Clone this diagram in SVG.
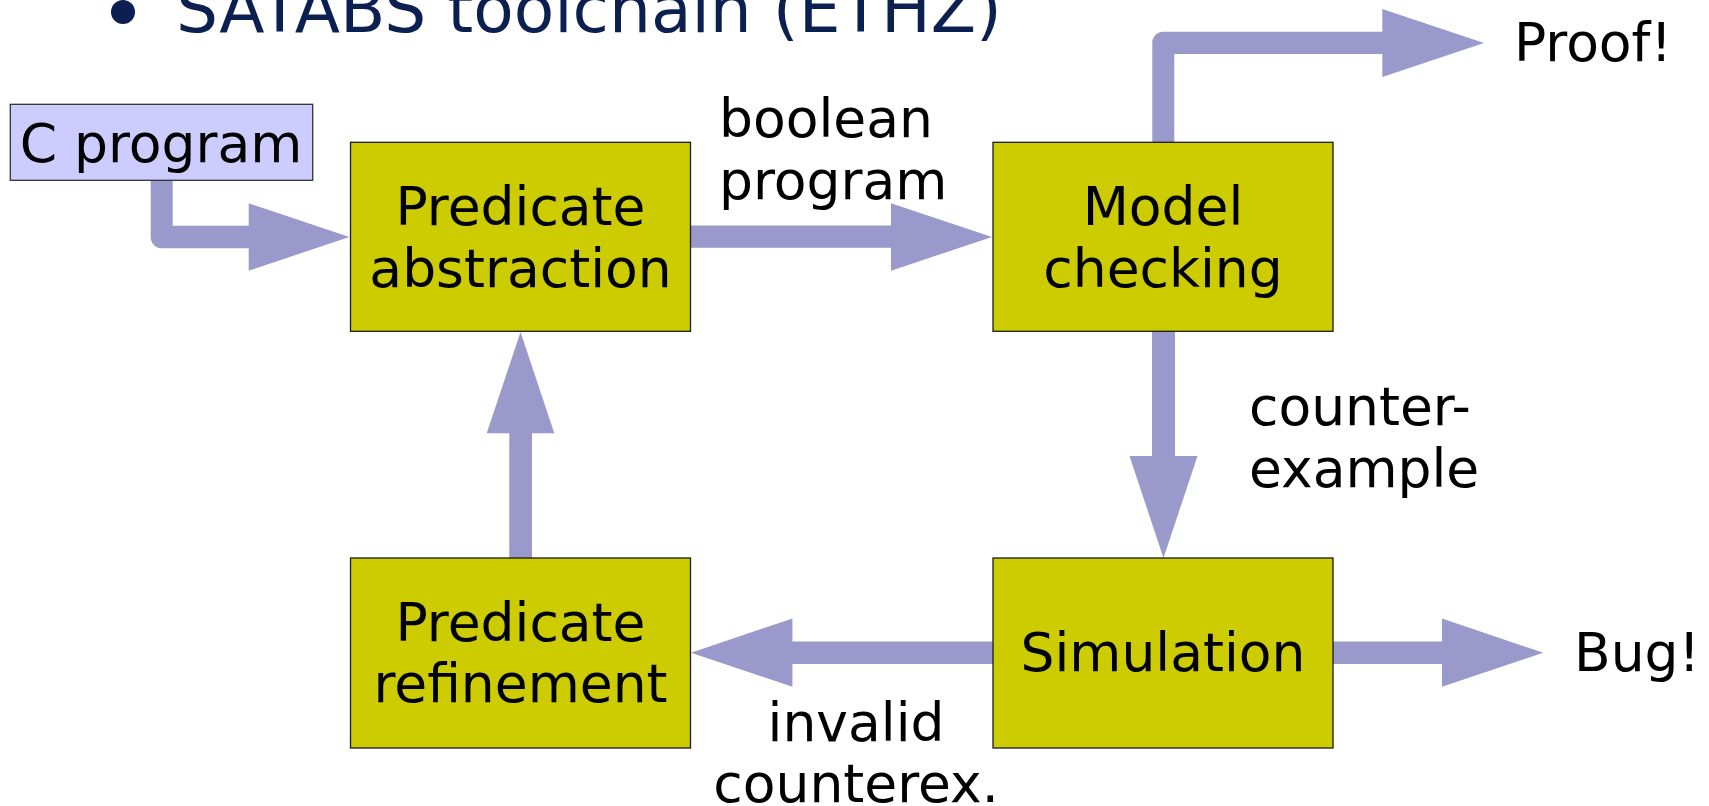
<svg xmlns="http://www.w3.org/2000/svg" width="1709" height="806" viewBox="0 0 1709 806">
<style>
.box{fill:#cccc00;stroke:#1a1a1a;stroke-width:1.3}
.src{fill:#ccccff;stroke:#333333;stroke-width:1.3}
.arrow{fill:#9999cc;stroke:none}
text{font-family:"DejaVu Sans","Liberation Sans",sans-serif;fill:#000000}
.lbl{font-size:53.5px}
.mid{text-anchor:middle}
.title{font-size:66.2px;fill:#0b1f50}
</style>
<rect width="1709" height="806" fill="#ffffff"/>
<g id="title">
<circle cx="123" cy="12" r="12" fill="#0b1f50"/>
<text class="title" x="176" y="32.3">SATABS toolchain (ETHZ)</text>
</g>
<g id="connectors">
<path class="arrow" d="M150.7,180 L172.7,180 L172.7,225.7 L248.7,225.7 L248.7,203.3 L349.3,237 L248.7,270.7 L248.7,248.3 L161.7,248.3 A11,11 0 0 1 150.7,237.3 Z"/>
<path class="arrow" d="M690.5,225.6 L891,225.6 L891,203.3 L992,237 L891,270.7 L891,247.8 L690.5,247.8 Z"/>
<path class="arrow" d="M1152.3,142 L1152.3,42.7 A11,11 0 0 1 1163.3,31.7 L1382.3,31.7 L1382.3,9 L1484,43 L1382.3,77 L1382.3,54 L1174.3,54 L1174.3,142 Z"/>
<path class="arrow" d="M1152,331 L1175,331 L1175,456 L1197.5,456 L1163.5,558 L1129.5,456 L1152,456 Z"/>
<path class="arrow" d="M509.3,558 L509.3,433.3 L486.7,433.3 L520.5,332 L554.3,433.3 L532,433.3 L532,558 Z"/>
<path class="arrow" d="M993,641.5 L792.4,641.5 L792.4,618.5 L691,652.8 L792.4,686.8 L792.4,664 L993,664 Z"/>
<path class="arrow" d="M1333,641.5 L1442,641.5 L1442,618.5 L1543.3,652.8 L1442,686.8 L1442,664 L1333,664 Z"/>
<text class="lbl" x="719" y="137.3">boolean</text>
<text class="lbl" x="719" y="199">program</text>
<text class="lbl" x="1249" y="425">counter-</text>
<text class="lbl" x="1249" y="487.3">example</text>
<text class="lbl mid" x="856" y="741">invalid</text>
<text class="lbl mid" x="856" y="802">counterex.</text>
</g>
<g id="c-program">
<rect class="src" x="10.3" y="104.3" width="302.4" height="76"/>
<text class="lbl mid" x="161" y="162.3">C program</text>
</g>
<g id="predicate-abstraction">
<rect class="box" x="350.5" y="142.3" width="340" height="189"/>
<text class="lbl mid" x="520.5" y="225">Predicate</text>
<text class="lbl mid" x="520.5" y="287.3">abstraction</text>
</g>
<g id="model-checking">
<rect class="box" x="993" y="142.3" width="340" height="189"/>
<text class="lbl mid" x="1163" y="225">Model</text>
<text class="lbl mid" x="1163" y="287.3">checking</text>
</g>
<g id="predicate-refinement">
<rect class="box" x="350.5" y="558" width="340" height="190"/>
<text class="lbl mid" x="520.5" y="640.5">Predicate</text>
<text class="lbl mid" x="520.5" y="702">refinement</text>
</g>
<g id="simulation">
<rect class="box" x="993" y="558" width="340" height="190"/>
<text class="lbl mid" x="1163" y="670.7">Simulation</text>
</g>
<g id="proof">
<text class="lbl" x="1514" y="61">Proof!</text>
</g>
<g id="bug">
<text class="lbl" x="1574" y="670.7">Bug!</text>
</g>
</svg>
